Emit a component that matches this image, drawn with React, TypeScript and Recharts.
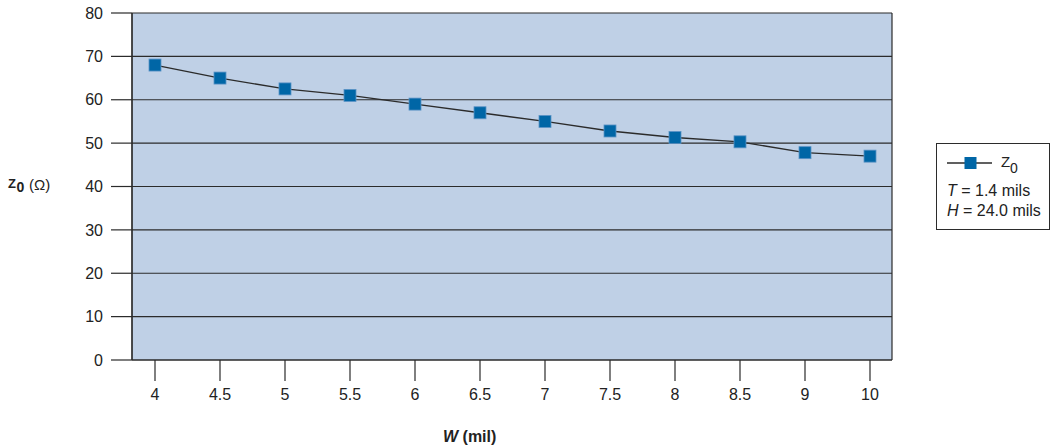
import React from "react"
import { LineChart, Line, XAxis, YAxis, CartesianGrid } from "recharts"

// conductor width W (mil) on the x axis
const W_MIL = ["4", "4.5", "5", "5.5", "6", "6.5", "7", "7.5", "8", "8.5", "9", "10"]
// characteristic impedance Z0 in ohms
const Z0_OHM = [68, 65, 62.5, 61, 59, 57, 55, 52.8, 51.3, 50.3, 47.8, 47]
const Y_TICKS = [0, 10, 20, 30, 40, 50, 60, 70, 80]

const data = W_MIL.map((w, i) => ({ w, z0: Z0_OHM[i] }))

const FONT = "'Liberation Sans', Arial, Helvetica, sans-serif"
const MARKER = "#0066a6"
const INK = "#2b2b2b"
const TEXT = "#222"

function SquareDot(props: any) {
  const { cx, cy } = props
  if (cx == null || cy == null) return null
  return <rect x={cx - 6} y={cy - 6} width={12} height={12} fill={MARKER} stroke="#5b93c6" strokeWidth={0.8} />
}

export default function App() {
  return (
    <div
      style={{
        position: "absolute",
        left: 0,
        top: 0,
        width: 1052,
        height: 445,
        background: "white",
        fontFamily: FONT,
        overflow: "hidden",
      }}
    >
      <LineChart width={1052} height={445} data={data} margin={{ top: 13, right: 160, bottom: 45, left: 0 }}>
        <CartesianGrid
          stroke={INK}
          strokeWidth={1.2}
          fill="#bfd0e6"
          fillOpacity={1}
          horizontal={true}
          verticalCoordinatesGenerator={({ offset }: any) => [offset.left, offset.left + offset.width]}
        />
        <XAxis
          dataKey="w"
          height={40}
          padding={{ left: 23, right: 22 }}
          tickSize={21}
          tickMargin={8}
          axisLine={{ stroke: INK, strokeWidth: 1.2 }}
          tickLine={{ stroke: INK, strokeWidth: 1.2 }}
          tick={{ fontSize: 16, fill: TEXT, fontFamily: FONT }}
          interval={0}
        />
        <YAxis
          width={132}
          domain={[0, 80]}
          ticks={Y_TICKS}
          tickSize={21}
          tickMargin={8}
          axisLine={{ stroke: INK, strokeWidth: 1.2 }}
          tickLine={{ stroke: INK, strokeWidth: 1.2 }}
          tick={{ fontSize: 16, fill: TEXT, fontFamily: FONT }}
          interval={0}
        />
        <Line
          type="linear"
          dataKey="z0"
          stroke={INK}
          strokeWidth={1.3}
          dot={<SquareDot />}
          activeDot={false}
          isAnimationActive={false}
        />
      </LineChart>

      {/* axis titles and legend box */}
      <svg
        width={1052}
        height={445}
        style={{ position: "absolute", left: 0, top: 0, pointerEvents: "none" }}
        fontFamily={FONT}
        fill={TEXT}
      >
        <text x={8} y={188} fontSize={13} fontWeight={700}>Z</text>
        <text x={16.5} y={192} fontSize={14} fontWeight={700}>0</text>
        <text x={29} y={190} fontSize={15}>(Ω)</text>

        <text x={443} y={442} fontSize={16} fontWeight={700}>
          <tspan fontStyle="italic">W</tspan> (mil)
        </text>

        <rect x={936.5} y={143.5} width={113} height={86} fill="white" stroke={INK} strokeWidth={1} />
        <line x1={947} x2={992} y1={163} y2={163} stroke={INK} strokeWidth={1.3} />
        <rect x={964.5} y={157} width={12} height={12} fill={MARKER} />
        <text x={1001} y={166.5} fontSize={15}>Z</text>
        <text x={1010} y={173} fontSize={14}>0</text>
        <text x={947} y={196.3} fontSize={16}>
          <tspan fontStyle="italic">T</tspan> = 1.4 mils
        </text>
        <text x={947} y={216.3} fontSize={16}>
          <tspan fontStyle="italic">H</tspan> = 24.0 mils
        </text>
      </svg>
    </div>
  )
}
